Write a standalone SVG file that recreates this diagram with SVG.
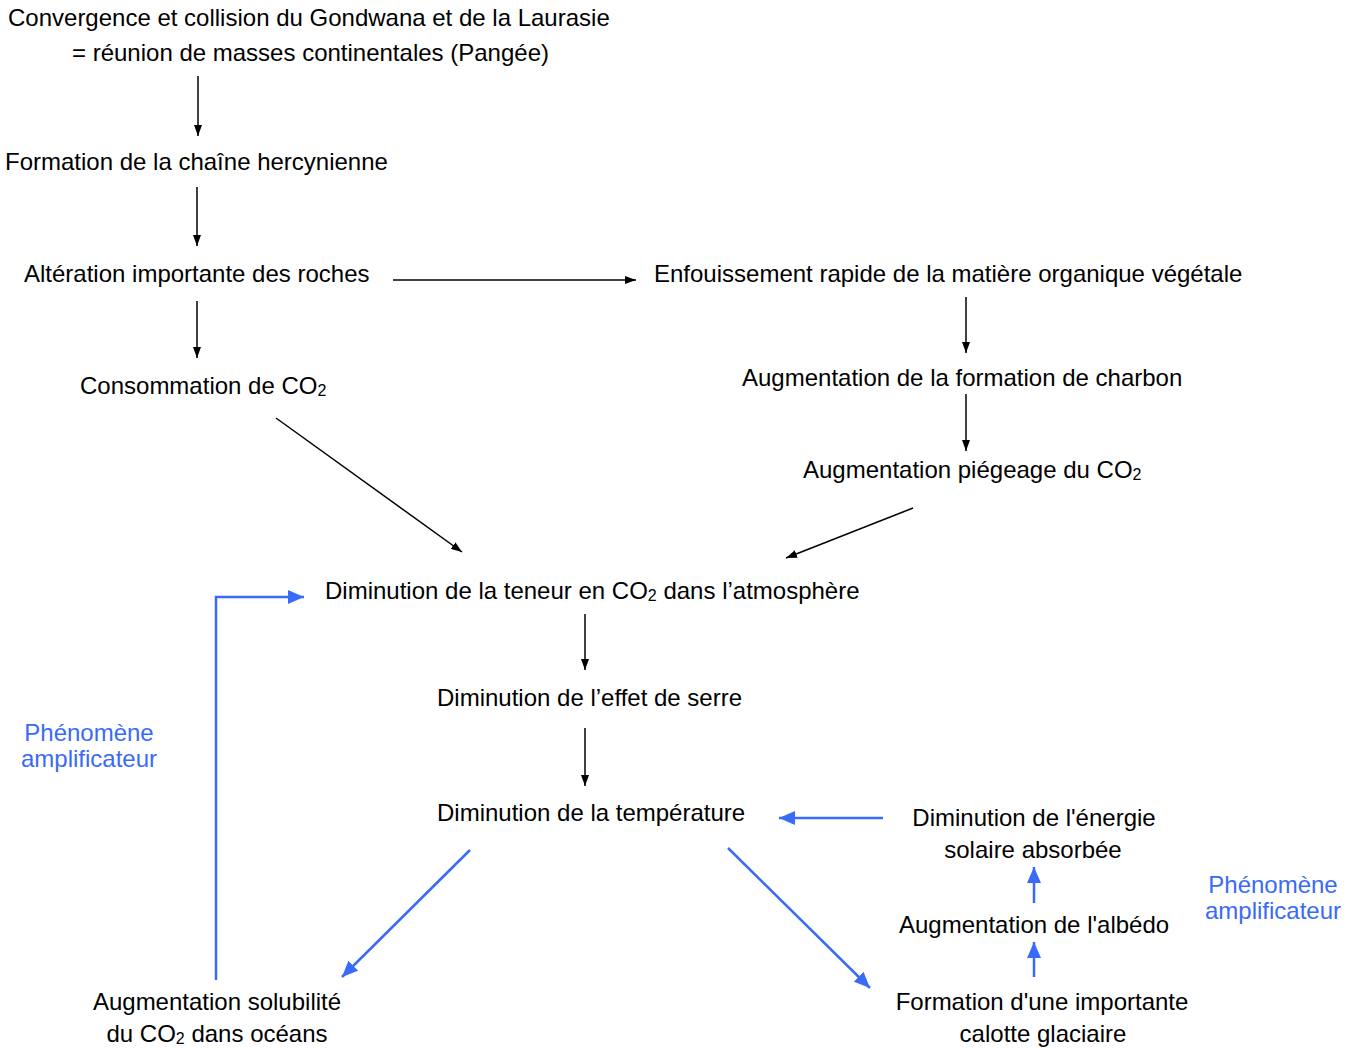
<svg xmlns="http://www.w3.org/2000/svg" width="1359" height="1048" viewBox="0 0 1359 1048">
<style>
text{font-family:"Liberation Sans",Arial,sans-serif;font-size:24px;fill:#000}
.b{fill:#3a6af8}
.k{stroke:#000;stroke-width:1.5;fill:none}
.u{stroke:#3a6af8;stroke-width:2.5;fill:none}
.s{font-size:16px}
</style>
<defs>
<marker id="ak" viewBox="0 0 11 8" refX="11" refY="4" markerWidth="11" markerHeight="8" markerUnits="userSpaceOnUse" orient="auto"><path d="M0,0L11,4L0,8z" fill="#000"/></marker>
<marker id="ab" viewBox="0 0 16 14" refX="16" refY="7" markerWidth="16" markerHeight="14" markerUnits="userSpaceOnUse" orient="auto"><path d="M0,0L16,7L0,14z" fill="#3a6af8"/></marker>
</defs>
<g id="connectors">
<line class="k" x1="198" y1="76" x2="198" y2="136" marker-end="url(#ak)"/>
<line class="k" x1="197" y1="187" x2="197" y2="246" marker-end="url(#ak)"/>
<line class="k" x1="393" y1="280" x2="636" y2="280" marker-end="url(#ak)"/>
<line class="k" x1="197" y1="301" x2="197" y2="358" marker-end="url(#ak)"/>
<line class="k" x1="966" y1="297" x2="966" y2="353" marker-end="url(#ak)"/>
<line class="k" x1="966" y1="394" x2="966" y2="451" marker-end="url(#ak)"/>
<line class="k" x1="276" y1="418" x2="462" y2="552" marker-end="url(#ak)"/>
<line class="k" x1="913" y1="508" x2="786" y2="558" marker-end="url(#ak)"/>
<line class="k" x1="585" y1="614" x2="585" y2="670" marker-end="url(#ak)"/>
<line class="k" x1="585" y1="728" x2="585" y2="786" marker-end="url(#ak)"/>
<line class="u" x1="883" y1="818" x2="779" y2="818" marker-end="url(#ab)"/>
<line class="u" x1="1034" y1="903" x2="1034" y2="867" marker-end="url(#ab)"/>
<line class="u" x1="1034" y1="977" x2="1034" y2="942" marker-end="url(#ab)"/>
<line class="u" x1="728" y1="848" x2="870" y2="988" marker-end="url(#ab)"/>
<line class="u" x1="470" y1="850" x2="342" y2="977" marker-end="url(#ab)"/>
<polyline class="u" points="216,980 216,597 304,597" marker-end="url(#ab)"/>
</g>
<g id="n1"><text x="8" y="26">Convergence et collision du Gondwana et de la Laurasie</text><text x="72" y="61">= réunion de masses continentales (Pangée)</text></g>
<g id="n2"><text x="5" y="170">Formation de la chaîne hercynienne</text></g>
<g id="n3"><text x="24" y="282">Altération importante des roches</text></g>
<g id="n4"><text x="654" y="282">Enfouissement rapide de la matière organique végétale</text></g>
<g id="n5"><text x="80" y="394">Consommation de CO<tspan class="s" dy="2">2</tspan></text></g>
<g id="n6"><text x="742" y="386">Augmentation de la formation de charbon</text></g>
<g id="n7"><text x="803" y="478">Augmentation piégeage du CO<tspan class="s" dy="2">2</tspan></text></g>
<g id="n8"><text x="325" y="599">Diminution de la teneur en CO<tspan class="s" dy="2">2</tspan><tspan dy="-2"> dans l’atmosphère</tspan></text></g>
<g id="n9"><text x="437" y="706">Diminution de l’effet de serre</text></g>
<g id="n10"><text x="437" y="821">Diminution de la température</text></g>
<g id="n11"><text x="1034" y="826" text-anchor="middle">Diminution de l'énergie</text><text x="1033" y="858" text-anchor="middle">solaire absorbée</text></g>
<g id="n12"><text x="899" y="933">Augmentation de l'albédo</text></g>
<g id="n13"><text x="1042" y="1010" text-anchor="middle">Formation d'une importante</text><text x="1043" y="1042" text-anchor="middle">calotte glaciaire</text></g>
<g id="n14"><text x="217" y="1010" text-anchor="middle">Augmentation solubilité</text><text x="217" y="1042" text-anchor="middle">du CO<tspan class="s" dy="2">2</tspan><tspan dy="-2"> dans océans</tspan></text></g>
<g id="n15"><text class="b" x="89" y="741" text-anchor="middle">Phénomène</text><text class="b" x="89" y="767" text-anchor="middle">amplificateur</text></g>
<g id="n16"><text class="b" x="1273" y="893" text-anchor="middle">Phénomène</text><text class="b" x="1273" y="919" text-anchor="middle">amplificateur</text></g>
</svg>
